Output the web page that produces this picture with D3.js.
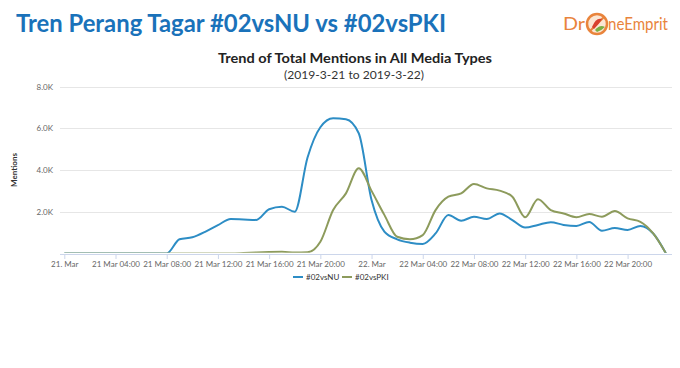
<!DOCTYPE html>
<html>
<head>
<meta charset="utf-8">
<script src="https://cdn.jsdelivr.net/npm/d3@7"></script>
<style>
  body { margin: 0; background: #fff; }
  svg { display: block; font-family: Lato, "Open Sans", sans-serif; }
</style>
</head>
<body>
<div id="chart"></div>
<script>
// hourly mentions, 2019-03-21 00:00 .. 2019-03-22 23:00
var startTime = Date.UTC(2019, 2, 21, 0);
var seriesNames = ["#02vsNU", "#02vsPKI"];
var seriesColors = ["#2d8dc5", "#8d9b5c"];

var nuValues = [0, 0, 0, 0, 0, 0, 0, 0, 0, 680, 780, 1040, 1360, 1650, 1630, 1610,
  2120, 2240, 2000, 4600, 6050, 6480, 6430, 5760, 2560, 1050, 680, 520,
  460, 960, 1840, 1570, 1760, 1650, 1920, 1600, 1240, 1370, 1500, 1370,
  1320, 1510, 1090, 1220, 1130, 1320, 960, 0];
var pkiValues = [0, 0, 0, 0, 0, 0, 0, 0, 0, 0, 0, 0, 0, 0, 20, 50,
  70, 80, 50, 60, 560, 2080, 2880, 4080, 3000, 1850, 800, 680,
  880, 2080, 2720, 2880, 3330, 3120, 3010, 2720, 1740, 2600, 2080, 1920,
  1740, 1890, 1760, 2030, 1680, 1520, 960, 0];

var yTicks = [2000, 4000, 6000, 8000];
var yTickLabels = ["2.0K", "4.0K", "6.0K", "8.0K"];
var xTickHours = [0, 4, 8, 12, 16, 20, 24, 28, 32, 36, 40, 44];
var xTickLabels = ["21. Mar", "21 Mar 04:00", "21 Mar 08:00", "21 Mar 12:00", "21 Mar 16:00", "21 Mar 20:00",
  "22. Mar", "22 Mar 04:00", "22 Mar 08:00", "22 Mar 12:00", "22 Mar 16:00", "22 Mar 20:00"];

var width = 680, height = 368;
var svg = d3.select("#chart").append("svg")
  .attr("width", width)
  .attr("height", height);

var hourDate = function(h) { return new Date(startTime + h * 3600000); };

var x = d3.scaleUtc()
  .domain([hourDate(0), hourDate(nuValues.length - 1)])
  .range([64.3, 666]);
var y = d3.scaleLinear()
  .domain([0, 8000])
  .range([253.5, 86.5]);

var plotLeft = 60, plotRight = 672;

// header
svg.append("text")
  .attr("x", 16).attr("y", 32)
  .attr("fill", "#1a72ba")
  .attr("font-size", 25).attr("font-weight", "bold")
  .attr("textLength", 430).attr("lengthAdjust", "spacingAndGlyphs")
  .text("Tren Perang Tagar #02vsNU vs #02vsPKI");

// logo
var logo = svg.append("g").attr("transform", "translate(563,0)");
logo.append("text").attr("x", 0).attr("y", 30)
  .attr("fill", "#e9843c").attr("font-size", 17)
  .attr("textLength", 22).attr("lengthAdjust", "spacingAndGlyphs")
  .text("Dr");
logo.append("circle").attr("cx", 34).attr("cy", 24).attr("r", 10)
  .attr("fill", "#fbe6d3").attr("stroke", "#e9843c").attr("stroke-width", 2.5);
logo.append("path").attr("d", "M27,31 L41,17")
  .attr("stroke", "#e9843c").attr("stroke-width", 2);
logo.append("path").attr("d", "M29,27 Q33,17 39,19 Q36,24 31,29 Z").attr("fill", "#d8412f");
logo.append("path").attr("d", "M32,30 Q37,24 42,27 Q38,31 34,32 Z").attr("fill", "#7bb043");
logo.append("text").attr("x", 45).attr("y", 30)
  .attr("fill", "#e9843c").attr("font-size", 17)
  .attr("textLength", 60).attr("lengthAdjust", "spacingAndGlyphs")
  .text("neEmprit");

// chart titles
svg.append("text")
  .attr("x", 355).attr("y", 63)
  .attr("text-anchor", "middle")
  .attr("font-size", 14).attr("font-weight", "bold").attr("fill", "#222")
  .attr("textLength", 274).attr("lengthAdjust", "spacingAndGlyphs")
  .text("Trend of Total Mentions in All Media Types");
svg.append("text")
  .attr("x", 354).attr("y", 79)
  .attr("text-anchor", "middle")
  .attr("font-size", 10.5).attr("fill", "#333")
  .attr("textLength", 140).attr("lengthAdjust", "spacingAndGlyphs")
  .text("(2019-3-21 to 2019-3-22)");

// grid
var grid = svg.append("g");
grid.selectAll("line").data(yTicks).enter().append("line")
  .attr("x1", plotLeft).attr("x2", plotRight)
  .attr("y1", function(d) { return Math.round(y(d)) + 0.5; })
  .attr("y2", function(d) { return Math.round(y(d)) + 0.5; })
  .attr("stroke", "#e6e6e6").attr("stroke-width", 1);

grid.selectAll("text").data(yTicks).enter().append("text")
  .attr("x", 53)
  .attr("y", function(d) { return y(d) + 3; })
  .attr("text-anchor", "end")
  .attr("font-size", 8).attr("fill", "#666")
  .text(function(d, i) { return yTickLabels[i]; });

svg.append("text")
  .attr("transform", "translate(17,170) rotate(-90)")
  .attr("text-anchor", "middle")
  .attr("font-size", 8).attr("font-weight", "bold").attr("fill", "#333")
  .text("Mentions");

// lines, clipped at the plot bottom so zero runs hide under the axis
svg.append("clipPath").attr("id", "plot-clip")
  .append("rect")
  .attr("x", plotLeft).attr("y", 80)
  .attr("width", plotRight - plotLeft)
  .attr("height", y(0) - 80 - 0.7);

var line = d3.line()
  .x(function(d, i) { return x(hourDate(i)); })
  .y(function(d) { return y(d); })
  .curve(d3.curveMonotoneX);

var lines = svg.append("g").attr("clip-path", "url(#plot-clip)");
[nuValues, pkiValues].forEach(function(vals, k) {
  lines.append("path")
    .datum(vals)
    .attr("fill", "none")
    .attr("stroke", seriesColors[k])
    .attr("stroke-width", 2)
    .attr("stroke-linejoin", "round")
    .attr("d", line);
});

// x axis
var xAxis = d3.axisBottom(x)
  .tickValues(xTickHours.map(hourDate))
  .tickFormat(function(d, i) { return xTickLabels[i]; })
  .tickSize(5)
  .tickSizeOuter(0);
var gx = svg.append("g")
  .attr("transform", "translate(0," + Math.round(y(0)) + ")")
  .call(xAxis);
gx.select(".domain").attr("d", "M" + plotLeft + ",0.5H" + plotRight).attr("stroke", "#ccd6eb");
gx.selectAll(".tick line").attr("stroke", "#ccd6eb");
gx.selectAll(".tick text")
  .attr("font-family", "Lato, sans-serif")
  .attr("font-size", 8).attr("fill", "#666").attr("dy", "0.6em");

// legend
var legendX = [293, 342];
var legend = svg.append("g");
seriesNames.forEach(function(name, k) {
  legend.append("line")
    .attr("x1", legendX[k]).attr("x2", legendX[k] + 10)
    .attr("y1", 277).attr("y2", 277)
    .attr("stroke", seriesColors[k]).attr("stroke-width", 2);
  legend.append("text")
    .attr("x", legendX[k] + 13).attr("y", 280)
    .attr("font-size", 8).attr("fill", "#333")
    .text(name);
});
</script>
</body>
</html>
